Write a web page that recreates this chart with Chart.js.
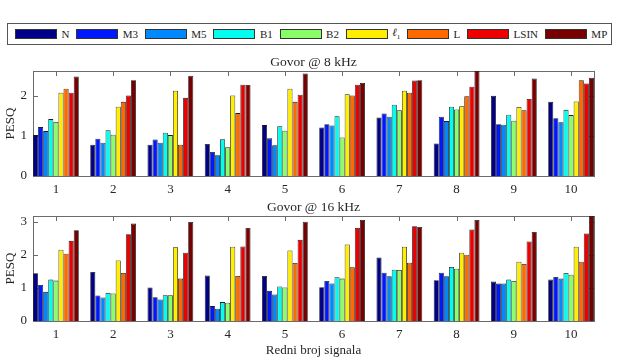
<!DOCTYPE html>
<html>
<head>
<meta charset="utf-8">
<title>PESQ</title>
<script src="https://cdn.jsdelivr.net/npm/chart.js@4.4.0/dist/chart.umd.min.js"></script>
<style>
    body { margin: 0; background: #fff; width: 621px; height: 359px; overflow: hidden; position: relative;
           font-family: 'Liberation Serif', 'DejaVu Serif', serif; }
    #legend { position: absolute; left: 7px; top: 23px; width: 605px; height: 22px; box-sizing: border-box;
              border: 1px solid #555; display: flex; align-items: center; padding-left: 7px;
              font-size: 11px; color: #222; }
    .item { display: flex; align-items: center; margin-right: 6.8px; }
    .sw { width: 40px; height: 8px; border: 1px solid #333; margin-right: 4.5px; }
    canvas { position: absolute; left: 0; }
    #c8 { top: 50px; }
    #c16 { top: 195px; }
</style>
</head>
<body>
<div id="legend"></div>
<canvas id="c8" width="621" height="150"></canvas>
<canvas id="c16" width="621" height="164"></canvas>
<script>
    // Data
    const signals = [1, 2, 3, 4, 5, 6, 7, 8, 9, 10];
    const methods = ['N', 'M3', 'M5', 'B1', 'B2', 'ℓ1', 'L', 'LSIN', 'MP'];
    const colors = ['#000088', '#0018ff', '#0088ff', '#00ffee', '#88ff66', '#ffee00', '#ff6a00', '#ee0000', '#780000'];
    const yTicks8 = [0, 1, 2];
    const yTicks16 = [0, 1, 2, 3];

    // Govor @ 8 kHz
    const n8    = [1.02, 0.78, 0.78, 0.80, 1.27, 1.21, 1.46, 0.81, 2.00, 1.85];
    const m3_8  = [1.22, 0.93, 0.91, 0.60, 0.94, 1.29, 1.56, 1.48, 1.29, 1.44];
    const m5_8  = [1.12, 0.83, 0.83, 0.52, 0.77, 1.26, 1.48, 1.37, 1.28, 1.34];
    const b1_8  = [1.42, 1.14, 1.08, 0.92, 1.24, 1.49, 1.78, 1.73, 1.53, 1.65];
    const b2_8  = [1.35, 1.03, 1.02, 0.72, 1.13, 0.96, 1.64, 1.66, 1.38, 1.52];
    const l1_8  = [2.08, 1.73, 2.13, 2.01, 2.18, 2.04, 2.13, 1.74, 1.72, 1.86];
    const l_8   = [2.18, 1.85, 0.78, 1.57, 1.85, 2.01, 2.08, 1.99, 1.64, 2.39];
    const lsin8 = [2.08, 2.01, 1.95, 2.28, 2.03, 2.28, 2.38, 2.23, 1.92, 2.31];
    const mp8   = [2.48, 2.39, 2.50, 2.27, 2.56, 2.32, 2.39, 2.62, 2.43, 2.45];

    // Govor @ 16 kHz
    const n16    = [1.44, 1.48, 1.01, 1.37, 1.36, 1.02, 1.92, 1.23, 1.19, 1.25];
    const m3_16  = [1.09, 0.77, 0.72, 0.45, 0.91, 1.21, 1.46, 1.46, 1.13, 1.33];
    const m5_16  = [0.88, 0.71, 0.65, 0.37, 0.80, 1.13, 1.35, 1.35, 1.13, 1.28];
    const b1_16  = [1.25, 0.85, 0.78, 0.57, 1.04, 1.32, 1.55, 1.63, 1.25, 1.45];
    const b2_16  = [1.22, 0.83, 0.78, 0.55, 1.01, 1.28, 1.54, 1.58, 1.21, 1.40];
    const l1_16  = [2.15, 1.83, 2.23, 2.24, 2.13, 2.31, 2.24, 2.06, 1.79, 2.24];
    const l_16   = [2.03, 1.45, 1.28, 1.36, 1.75, 1.62, 1.76, 2.00, 1.72, 1.79];
    const lsin16 = [2.42, 2.62, 2.06, 2.25, 2.45, 2.81, 2.86, 2.76, 2.40, 2.64];
    const mp16   = [2.74, 2.94, 2.99, 2.81, 3.00, 3.05, 2.84, 3.05, 2.69, 3.17];

    const series8 = [n8, m3_8, m5_8, b1_8, b2_8, l1_8, l_8, lsin8, mp8];
    const series16 = [n16, m3_16, m5_16, b1_16, b2_16, l1_16, l_16, lsin16, mp16];

    const FONT = "'Liberation Serif', 'DejaVu Serif', serif";
    const AXIS = '#6b6b6b';
    const TEXT = '#262626';

    // Legend shared by both plots
    const legend = document.getElementById('legend');
    methods.forEach((m, i) => {
        const item = document.createElement('div');
        item.className = 'item';
        const sw = document.createElement('span');
        sw.className = 'sw';
        sw.style.background = colors[i];
        const txt = document.createElement('span');
        if (m === 'ℓ1') {
            txt.innerHTML = '<i>ℓ</i><sub style="font-size:7px">1</sub>';
        } else {
            txt.textContent = m;
        }
        item.appendChild(sw);
        item.appendChild(txt);
        legend.appendChild(item);
    });

    // Box around the axes with inward tick marks (MATLAB style)
    const frame = {
        id: 'frame',
        beforeDatasetsDraw(chart) {
            const { ctx, chartArea: a, scales: { x, y } } = chart;
            ctx.save();
            ctx.strokeStyle = AXIS;
            ctx.lineWidth = 1;
            ctx.beginPath();
            x.ticks.forEach(t => {
                const px = Math.round(x.getPixelForValue(t.value)) + 0.5;
                ctx.moveTo(px, a.bottom); ctx.lineTo(px, a.bottom - 5);
                ctx.moveTo(px, a.top); ctx.lineTo(px, a.top + 5);
            });
            y.ticks.forEach(t => {
                const py = Math.round(y.getPixelForValue(t.value)) + 0.5;
                ctx.moveTo(a.left, py); ctx.lineTo(a.left + 5, py);
                ctx.moveTo(a.right, py); ctx.lineTo(a.right - 5, py);
            });
            ctx.stroke();
            ctx.strokeRect(Math.round(a.left) + 0.5, Math.round(a.top) + 0.5,
                           Math.round(a.right - a.left), Math.round(a.bottom - a.top));
            ctx.restore();
        }
    };

    function makeChart(id, title, series, yTicks, xHeight, showXTitle) {
        const yMax = Math.max(...series.flat());
        return new Chart(document.getElementById(id), {
            type: 'bar',
            data: {
                labels: signals,
                datasets: series.map((vals, i) => ({
                    label: methods[i],
                    data: vals,
                    xAxisID: 'x',
                    yAxisID: 'y',
                    backgroundColor: colors[i],
                    borderColor: '#1a1a1a',
                    borderWidth: 0.8,
                    categoryPercentage: 0.8,
                    barPercentage: 1.0
                }))
            },
            options: {
                responsive: false,
                animation: false,
                devicePixelRatio: 1,
                layout: { padding: { left: 0, right: 27, top: 0, bottom: 0 } },
                plugins: {
                    legend: { display: false },
                    tooltip: { enabled: false },
                    title: { display: false }
                },
                scales: {
                    x: {
                        type: 'linear',
                        min: 0.6,
                        max: 10.4,
                        offset: false,
                        grid: { display: false, drawTicks: false, offset: false },
                        border: { display: false },
                        afterBuildTicks: s => { s.ticks = signals.map(v => ({ value: v })); },
                        afterFit: s => { s.height = xHeight; },
                        ticks: {
                            color: TEXT,
                            padding: 6,
                            maxRotation: 0,
                            font: { family: FONT, size: 13 },
                            callback: v => String(v)
                        },
                        title: {
                            display: showXTitle,
                            text: 'Redni broj signala',
                            color: TEXT,
                            font: { family: FONT, size: 13 },
                            padding: { top: 0, bottom: 1 }
                        }
                    },
                    y: {
                        min: 0,
                        max: yMax,
                        grid: { display: false, drawTicks: false },
                        border: { display: false },
                        afterBuildTicks: s => { s.ticks = yTicks.map(v => ({ value: v })); },
                        afterFit: s => { s.width = 33; },
                        ticks: {
                            color: TEXT,
                            padding: 6,
                            font: { family: FONT, size: 13 },
                            callback: v => String(v)
                        },
                        title: {
                            display: true,
                            text: 'PESQ',
                            color: TEXT,
                            font: { family: FONT, size: 13 },
                            padding: { top: 3, bottom: 0 }
                        }
                    },
                    // empty top axis, only used to centre the subplot title over the axes
                    top: {
                        type: 'linear',
                        position: 'top',
                        grid: { display: false, drawTicks: false },
                        border: { display: false },
                        ticks: { display: false },
                        afterFit: s => { s.height = 21; },
                        title: {
                            display: true,
                            text: title,
                            color: TEXT,
                            font: { family: FONT, size: 13.5 },
                            padding: { top: 4, bottom: 0 }
                        }
                    }
                }
            },
            plugins: [frame]
        });
    }

    makeChart('c8', 'Govor @ 8 kHz', series8, yTicks8, 24, false);
    makeChart('c16', 'Govor @ 16 kHz', series16, yTicks16, 38, true);
</script>
</body>
</html>
